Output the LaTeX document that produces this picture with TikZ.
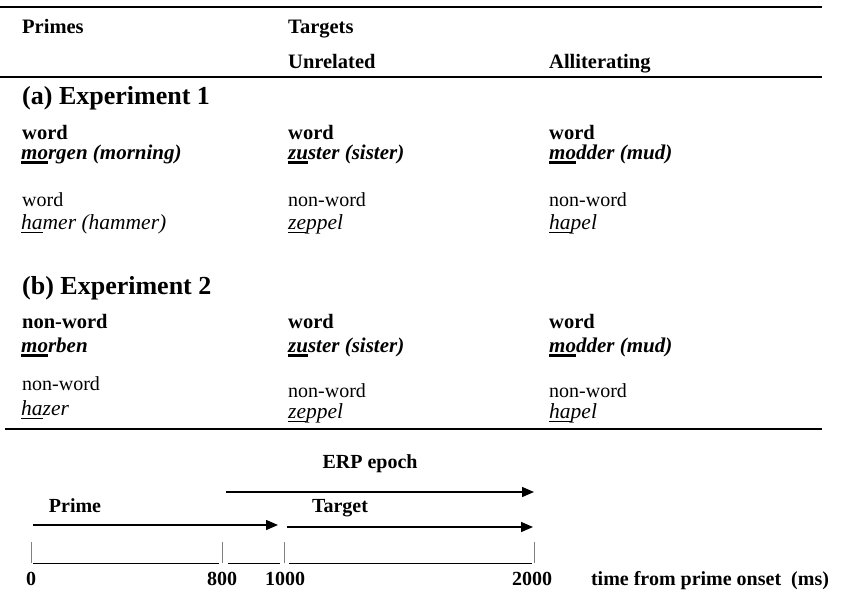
\documentclass[tikz,border=0pt]{standalone}
\usepackage{fontspec}
\setmainfont{Liberation Serif}
\usetikzlibrary{arrows.meta,positioning}
\newcommand{\ulthick}[1]{\setbox0\hbox{#1}\rlap{\rule[-4.5pt]{\wd0}{2.2pt}}\box0}
\newcommand{\ulthin}[1]{\setbox0\hbox{#1}\rlap{\rule[-4pt]{\wd0}{0.9pt}}\box0}
\tikzstyle{cell} = [anchor=west, inner sep=0pt, text height=14pt, text depth=4pt, font=\fontsize{20}{24}\selectfont]
\tikzstyle{cellb} = [cell, font=\fontsize{20.5}{24}\selectfont\bfseries]
\tikzstyle{celli} = [cell, font=\fontsize{21.5}{24}\selectfont\itshape]
\tikzstyle{cellbi} = [cell, font=\fontsize{21}{24}\selectfont\bfseries\itshape]
\tikzstyle{section} = [anchor=west, inner sep=0pt, text height=18pt, text depth=5pt, font=\fontsize{26}{30}\selectfont\bfseries]
\tikzstyle{label} = [inner sep=0pt, text height=14pt, text depth=4pt, font=\fontsize{20}{24}\selectfont\bfseries]
\tikzstyle{rule} = [line width=1.3pt]
\tikzstyle{arrow} = [line width=1.4pt, -{Triangle[length=12pt,width=10pt]}]
\tikzstyle{tick} = [line width=0.9pt, gray]
\tikzstyle{axis} = [line width=1pt]

\begin{document}
\begin{tikzpicture}[x=1pt, y=-1pt]
\useasboundingbox (0,0) rectangle (841,592);
% table header
\draw [rule] (0,7) -- (822,7);
\node (primes) [cellb] at (22,28) {Primes};
\node (targets) [cellb] at (288,28) {Targets};
\node (unrel) [cellb] at (288,63) {Unrelated};
\node (allit) [cellb] at (549,63) {Alliterating};
\draw [rule] (0,77) -- (822,77);
% experiment 1
\node (expa) [section] at (22,98) {(a) Experiment 1};
\node (aw1) [cellb] at (22,134) {word};
\node (aw2) [cellb] at (288,134) {word};
\node (aw3) [cellb] at (549,134) {word};
\node (morgen) [cellbi] at (21,154) {\ulthick{mo}rgen (morning)};
\node (zustera) [cellbi] at (288,154) {\ulthick{zu}ster (sister)};
\node (moddera) [cellbi] at (549,154) {\ulthick{mo}dder (mud)};
\node (an1) [cell] at (22,201) {word};
\node (an2) [cell] at (288,201) {non-word};
\node (an3) [cell] at (549,201) {non-word};
\node (hamer) [celli] at (21,224) {\ulthin{ha}mer (hammer)};
\node (zeppela) [celli] at (288,224) {\ulthin{ze}ppel};
\node (hapela) [celli] at (549,224) {\ulthin{ha}pel};
% experiment 2
\node (expb) [section] at (22,288) {(b) Experiment 2};
\node (bw1) [cellb] at (22,323) {non-word};
\node (bw2) [cellb] at (288,323) {word};
\node (bw3) [cellb] at (549,323) {word};
\node (morben) [cellbi] at (21,347) {\ulthick{mo}rben};
\node (zusterb) [cellbi] at (288,347) {\ulthick{zu}ster (sister)};
\node (modderb) [cellbi] at (549,347) {\ulthick{mo}dder (mud)};
\node (bn1) [cell] at (22,385) {non-word};
\node (bn2) [cell] at (288,392) {non-word};
\node (bn3) [cell] at (549,392) {non-word};
\node (hazer) [celli] at (21,410) {\ulthin{ha}zer};
\node (zeppelb) [celli] at (288,413) {\ulthin{ze}ppel};
\node (hapelb) [celli] at (549,413) {\ulthin{ha}pel};
\draw [rule] (5,429) -- (822,429);
% timeline
\coordinate (t0) at (31,542);
\coordinate (t800) at (222,542);
\coordinate (t1000) at (284,542);
\coordinate (t2000) at (534,542);
\foreach \t in {t0,t800,t1000,t2000}
  \draw [tick] (\t) -- ++(0,21);
\draw [axis] (33,563) -- (219,563);
\draw [axis] (228,563) -- (280,563);
\draw [axis] (289,563) -- (532,563);
\node (n0) [label] at (31,580) {0};
\node (n800) [label] at (222,580) {800};
\node (n1000) [label] at (285,580) {1000};
\node (n2000) [label] at (532,580) {2000};
\node (timelab) [label] at (710,580) {time from prime onset\ \ (ms)};
% epochs
\node (erp) [label] at (370,463) {ERP epoch};
\coordinate (erpa) at (226,492);
\coordinate (erpb) at (534,492);
\draw [arrow] (erpa) -- (erpb);
\node (prime) [label] at (75,507) {Prime};
\coordinate (primea) at (33,525);
\coordinate (primeb) at (278,525);
\draw [arrow] (primea) -- (primeb);
\node (target) [label] at (340,507) {Target};
\coordinate (targeta) at (287,527);
\coordinate (targetb) at (533,527);
\draw [arrow] (targeta) -- (targetb);
\end{tikzpicture}
\end{document}
